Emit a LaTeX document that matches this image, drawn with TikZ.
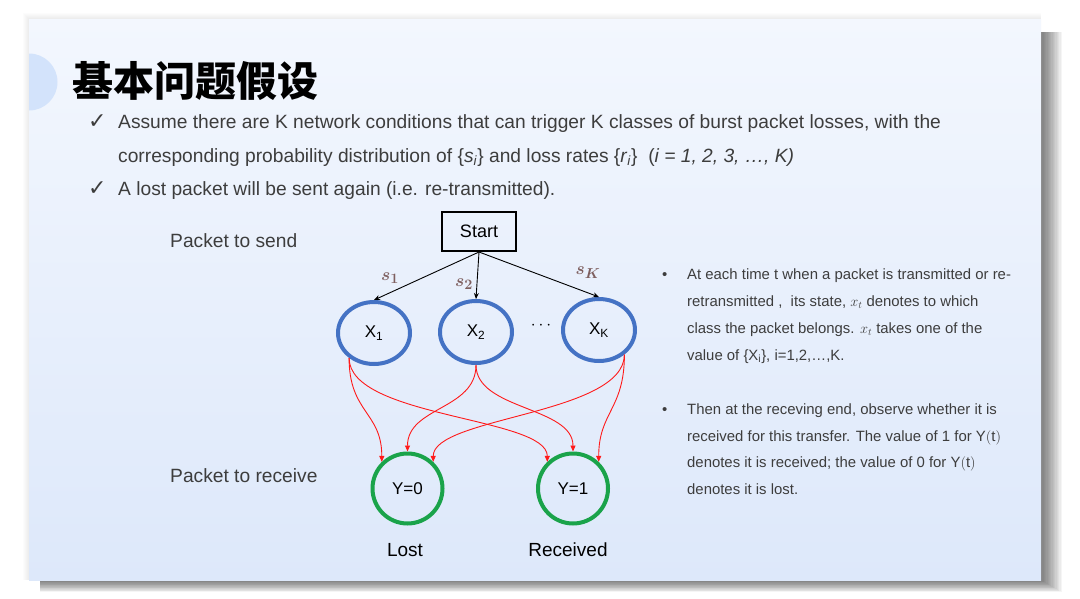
\documentclass[tikz,border=0pt]{standalone}
\usepackage{fontspec}
\setmainfont{Liberation Sans}
\newfontfamily\cjk{Noto Sans CJK SC}
\newfontfamily\symfont{DejaVu Sans}
\usepackage{tikz}
\usetikzlibrary{shapes.geometric, arrows.meta}
\usetikzlibrary{positioning}
\usepackage{xcolor}
\definecolor{slidetop}{HTML}{F3F7FE}
\definecolor{slidebottom}{HTML}{DDE8FA}
\definecolor{deco}{HTML}{D3E3FB}
\definecolor{bodytext}{HTML}{3D3D3D}
\definecolor{stateblue}{HTML}{4472C4}
\definecolor{obsgreen}{HTML}{1AA34A}
\definecolor{problabel}{HTML}{7E5F5F}
\definecolor{lossred}{HTML}{FF1A1A}

\tikzset{
  body/.style={anchor=base west, inner sep=0pt, text=bodytext, font=\fontsize{19.2}{22}\selectfont},
  note/.style={anchor=base west, inner sep=0pt, text=bodytext, font=\fontsize{14.9}{18}\selectfont},
  tick/.style={anchor=base west, inner sep=0pt, text=bodytext, font=\symfont\fontsize{22}{22}\selectfont},
  xstate/.style={draw=stateblue, line width=4pt, ellipse, minimum width=72pt, minimum height=62pt, inner sep=0pt, font=\fontsize{17}{20}\selectfont},
  ystate/.style={draw=obsgreen, line width=4pt, circle, minimum size=70pt, inner sep=0pt, font=\fontsize{17}{20}\selectfont},
  branch/.style={-{Stealth[length=6pt, width=5pt]}, line width=0.9pt},
  loss/.style={-{Triangle[length=6pt, width=5pt]}, draw=lossred, line width=0.9pt},
  prob/.style={text=problabel, font=\boldmath\fontsize{19}{20}\selectfont}
}

\begin{document}
\begin{tikzpicture}[x=1pt, y=-1pt]
  \useasboundingbox (0,0) rectangle (1080,598);
  \fill[white] (0,0) rectangle (1080,598);

  % slide and its shadow
  \foreach \i in {1,...,6}
    \fill[black, opacity=0.01] (29-\i,19-\i) rectangle (1041,580);
  \foreach \i in {1,...,16}
    \fill[black, opacity=0.04] (40,32) rectangle (1041+\i*1.3, 580+\i*0.75);
  \shade[top color=slidetop, bottom color=slidebottom] (29,19) rectangle (1041,580);
  \begin{scope}
    \clip (29,19) rectangle (1041,580);
    \fill[deco] (29,82) circle (28.5);
  \end{scope}

  % title and bullets
  \node[anchor=west, inner sep=0pt, font=\cjk\bfseries\fontsize{41}{41}\selectfont] (title) at (72,81) {基本问题假设};
  \node[tick] (tick1) at (88,128) {✓};
  \node[body] (line1) at (118,128) {Assume there are K network conditions that can trigger K classes of burst packet losses, with the};
  \node[body] (line2) at (118,162) {corresponding probability distribution of \{\textit{s}\textsubscript{\textit{i}}\} and loss rates \{\textit{r}\textsubscript{\textit{i}}\}\ \ (\textit{i = 1, 2, 3, …, K)}};
  \node[tick] (tick2) at (88,195) {✓};
  \node[body] (line3) at (118,195) {A lost packet will be sent again (i.e. re-transmitted).};

  \node[body] (send) at (170,247) {Packet to send};
  \node[body] (receive) at (170,482) {Packet to receive};

  % states
  \node[draw, line width=2pt, minimum width=74pt, minimum height=39pt, inner sep=0pt, font=\fontsize{18}{20}\selectfont] (start) at (479,231.5) {Start};
  \node[xstate] (x1) at (374,333) {X\textsubscript{1}};
  \node[xstate] (x2) at (476,332) {X\textsubscript{2}};
  \node[xstate] (xk) at (599,330) {X\textsubscript{K}};
  \node[font=\fontsize{16}{20}\selectfont] (dots) at (541,326) {$\cdots$};
  \node[ystate] (y0) at (407.5,488.5) {Y=0};
  \node[ystate] (y1) at (573,488.5) {Y=1};
  \node[font=\fontsize{19}{20}\selectfont] (lost) at (405,550) {Lost};
  \node[font=\fontsize{19}{20}\selectfont] (received) at (568,550) {Received};

  \draw[branch] (start.south) -- (x1.north);
  \draw[branch] (start.south) -- (x2.north);
  \draw[branch] (start.south) -- (xk.north);
  \node[prob] (s1) at (390,278) {$s_1$};
  \node[prob] (s2) at (464,284) {$s_2$};
  \node[prob] (sk) at (588,273) {$s_K$};

  % loss / receive transitions
  \draw[loss] (x1.225) .. controls +(0,55) and +(0,-50) .. (y0.134);
  \draw[loss] (x1.225) .. controls +(0,60) and +(0,-45) .. (y1.134);
  \draw[loss] (x2.south) .. controls +(0,45) and +(0,-45) .. (y0.north);
  \draw[loss] (x2.south) .. controls +(0,45) and +(0,-45) .. (y1.north);
  \draw[loss] (xk.316) .. controls +(0,60) and +(0,-45) .. (y0.46);
  \draw[loss] (xk.316) .. controls +(0,55) and +(0,-50) .. (y1.46);

  % notes on the right
  \node[note] (b1) at (662,279) {•};
  \node[note] (n1) at (687,279) {At each time t when a packet is transmitted or re-};
  \node[note] (n2) at (687,306) {retransmitted ,\ \ its state, $x_t$ denotes to which};
  \node[note] (n3) at (687,333) {class the packet belongs. $x_t$ takes one of the};
  \node[note] (n4) at (687,360) {value of \{X\textsubscript{i}\}, i=1,2,…,K.};
  \node[note] (b2) at (662,414) {•};
  \node[note] (n5) at (687,414) {Then at the receving end, observe whether it is};
  \node[note] (n6) at (687,441) {received for this transfer. The value of 1 for $\mathrm{Y(t)}$};
  \node[note] (n7) at (687,467) {denotes it is received; the value of 0 for $\mathrm{Y(t)}$};
  \node[note] (n8) at (687,494) {denotes it is lost.};
\end{tikzpicture}
\end{document}
